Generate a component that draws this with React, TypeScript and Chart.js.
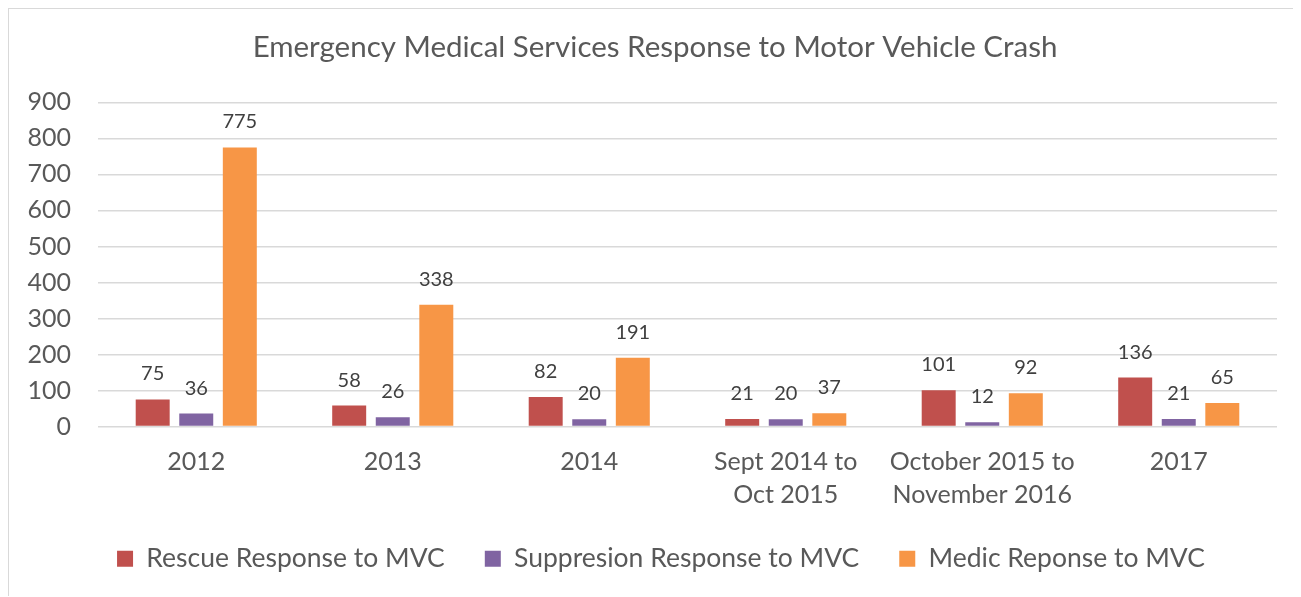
import React, { useEffect, useRef } from "react";
import { Chart, registerables } from "chart.js";

Chart.register(...registerables);

const categories: (string | string[])[] = [
  "2012",
  "2013",
  "2014",
  ["Sept 2014 to", "Oct 2015"],
  ["October 2015 to", "November 2016"],
  "2017",
];
const rescueValues = [75, 58, 82, 21, 101, 136];
const suppressionValues = [36, 26, 20, 20, 12, 21];
const medicValues = [775, 338, 191, 37, 92, 65];
const seriesNames = [
  "Rescue Response to MVC",
  "Suppresion Response to MVC",
  "Medic Reponse to MVC",
];
const chartTitle = "Emergency Medical Services Response to Motor Vehicle Crash";

const FONT = "Lato";

const dataLabelPlugin = {
  id: "dataLabels",
  afterDatasetsDraw(chart: any) {
    const ctx = chart.ctx;
    ctx.save();
    ctx.font = `20px ${FONT}`;
    ctx.fillStyle = "#404040";
    ctx.textAlign = "center";
    ctx.textBaseline = "alphabetic";
    chart.data.datasets.forEach((ds: any, di: number) => {
      const meta = chart.getDatasetMeta(di);
      meta.data.forEach((bar: any, i: number) => {
        ctx.fillText(String(ds.data[i]), bar.x, bar.y - 19);
      });
    });
    ctx.restore();
  },
};

const shiftPlugin = {
  id: "shiftBlocks",
  afterLayout(chart: any) {
    if (chart.legend) chart.legend.left += 36;
    if (chart.titleBlock) chart.titleBlock.left += 24;
  },
};

export default function App() {
  const canvasRef = useRef<HTMLCanvasElement>(null);

  useEffect(() => {
    if (!canvasRef.current) return;
    const chart = new Chart(canvasRef.current, {
      type: "bar",
      data: {
        labels: categories,
        datasets: [
          {
            label: seriesNames[0],
            data: rescueValues,
            backgroundColor: "#C0504D",
          },
          {
            label: seriesNames[1],
            data: suppressionValues,
            backgroundColor: "#8064A2",
          },
          {
            label: seriesNames[2],
            data: medicValues,
            backgroundColor: "#F79646",
          },
        ],
      },
      options: {
        animation: false,
        responsive: false,
        maintainAspectRatio: false,
        datasets: {
          bar: { categoryPercentage: 0.665, barPercentage: 0.78 },
        },
        layout: { padding: { left: 0, right: 21, top: 0, bottom: 14 } },
        plugins: {
          title: {
            display: true,
            text: chartTitle,
            color: "#595959",
            font: { family: FONT, size: 29.5, weight: "normal" },
            padding: { top: 21, bottom: 37 },
          },
          legend: {
            position: "bottom",
            labels: {
              color: "#595959",
              font: { family: FONT, size: 26.5 },
              boxWidth: 16,
              boxHeight: 16,
              padding: 40,
            },
          },
          tooltip: { enabled: false },
        },
        scales: {
          x: {
            grid: { display: false },
            border: { display: false },
            ticks: {
              color: "#595959",
              font: { family: FONT, size: 25, lineHeight: 1.32 },
              padding: 11,
              maxRotation: 0,
              autoSkip: false,
            },
            afterFit(scale: any) {
              scale.height = 79;
            },
          },
          y: {
            min: 0,
            max: 900,
            grid: { color: "#D9D9D9", lineWidth: 1.5, drawTicks: false },
            border: { display: false },
            ticks: {
              stepSize: 100,
              color: "#595959",
              font: { family: FONT, size: 25 },
              padding: 27,
            },
            afterFit(scale: any) {
              scale.width = 89;
            },
          },
        },
      },
      plugins: [dataLabelPlugin, shiftPlugin],
    });
    return () => chart.destroy();
  }, []);

  return (
    <div
      style={{
        borderLeft: "2px solid #D9D9D9",
        borderTop: "2px solid #D9D9D9",
        width: 1291,
        height: 589,
        boxSizing: "border-box",
        marginLeft: -1,
        marginTop: -1,
        background: "#fff",
      }}
    >
      <canvas ref={canvasRef} width={1289} height={587} style={{ display: "block" }} />
    </div>
  );
}
